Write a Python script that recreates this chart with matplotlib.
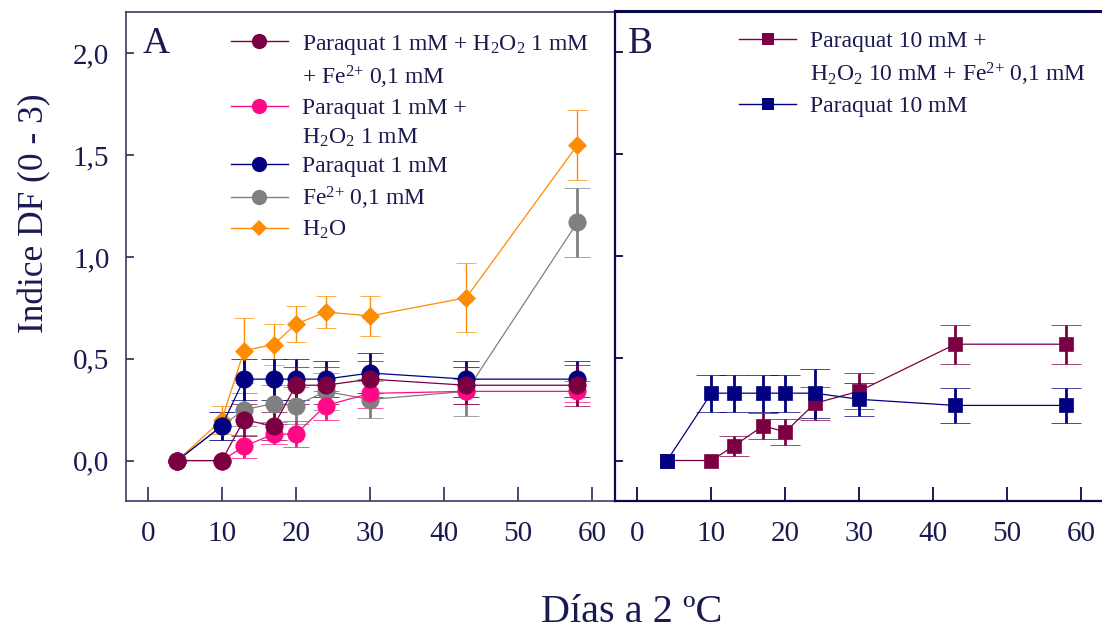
import matplotlib
matplotlib.use("Agg")
import matplotlib.pyplot as plt
from matplotlib.lines import Line2D

plt.rcParams['font.family'] = ['Liberation Serif', 'DejaVu Serif']
plt.rcParams['mathtext.default'] = 'regular'

TXT = '#1a1a50'
NA = float('nan')  # no error bar drawn

# ---------------- data ----------------
days = [4, 10, 13, 17, 20, 24, 30, 43, 58]

# Panel A
pq1_h2o2_fe = [0, 0, 0.20, 0.17, 0.37, 0.37, 0.40, 0.37, 0.37]
pq1_h2o2_fe_err = [NA, NA, 0.08, 0.07, 0.09, 0.09, 0.09, 0.09, 0.10]
pq1_h2o2 = [0, 0, 0.07, 0.13, 0.13, 0.27, 0.33, 0.34, 0.34]
pq1_h2o2_err = [NA, NA, 0.055, 0.05, 0.065, 0.07, 0.07, 0.06, 0.05]
pq1 = [0, 0.17, 0.40, 0.40, 0.40, 0.40, 0.43, 0.40, 0.40]
pq1_err = [NA, 0.07, 0.10, 0.10, 0.10, 0.09, 0.10, 0.09, 0.09]
fe = [0, 0.17, 0.25, 0.28, 0.27, 0.34, 0.30, 0.34, 1.17]
fe_err = [NA, 0.07, 0.08, 0.09, 0.09, 0.09, 0.09, 0.12, 0.17]
h2o = [0, 0.20, 0.54, 0.57, 0.67, 0.73, 0.71, 0.80, 1.55]
h2o_err = [NA, 0.07, 0.16, 0.10, 0.09, 0.08, 0.10, 0.17, 0.17]

# Panel B
pq10_h2o2_fe = [0, 0, 0.07, 0.17, 0.14, 0.28, 0.34, 0.57, 0.57]
pq10_h2o2_fe_err = [NA, NA, 0.05, 0.065, 0.065, 0.08, 0.09, 0.095, 0.095]
pq10 = [0, 0.33, 0.33, 0.33, 0.33, 0.33, 0.30, 0.27, 0.27]
pq10_err = [NA, 0.09, 0.09, 0.09, 0.09, 0.12, 0.08, 0.085, 0.085]

yticks = [0, 0.5, 1.0, 1.5, 2.0]
ytick_labels = ['0,0', '0,5', '1,0', '1,5', '2,0']
xticks = [0, 10, 20, 30, 40, 50, 60]

C_MAROON = '#7b0041'
C_PINK = '#ff0a84'
C_NAVY = '#000080'
C_GRAY = '#808080'
C_ORANGE = '#ff8c00'

fig = plt.figure(figsize=(11.02, 6.39), dpi=100)
axA = fig.add_axes([126/1102, 1-500.5/639, 489/1102, 488.5/639])
axB = fig.add_axes([615/1102, 1-500.5/639, 487/1102, 489.5/639])

def style(ax, spine_color, lw):
    ax.set_ylim(-0.196, 2.203)
    ax.set_xticks(xticks)
    ax.set_xticklabels([str(t) for t in xticks])
    ax.tick_params(axis='x', direction='in', length=10, width=1.3, colors=spine_color,
                   labelcolor=TXT, labelsize=21, pad=15)
    ax.tick_params(axis='y', direction='in', length=6, width=1.3, colors=spine_color,
                   labelcolor=TXT, labelsize=21, pad=12)
    for s in ax.spines.values():
        s.set_color(spine_color)
        s.set_linewidth(lw)

style(axA, '#3a3a68', 1.2)
style(axB, '#0a0a48', 1.6)
axB.spines['top'].set_linewidth(2.2)
axA.set_xlim(-2.93, 63.07)
axB.set_xlim(-3.04, 62.85)
axA.set_yticks(yticks)
axA.set_yticklabels(ytick_labels)
axB.set_yticks(yticks)
axB.set_yticklabels([])
axB.spines['right'].set_visible(False)

def series(ax, y, e, color, marker, ms, cap, elw, lw=0.9):
    ax.errorbar(days, y, yerr=e, color=color, marker=marker, markersize=ms,
                capsize=cap, elinewidth=elw, capthick=elw, linewidth=lw,
                markeredgecolor=color, markeredgewidth=0.5)

series(axA, h2o, h2o_err, C_ORANGE, 'D', 9.5, 7.5, 1.0)
series(axA, fe, fe_err, C_GRAY, 'o', 12.5, 9.5, 2.0)
series(axA, pq1, pq1_err, C_NAVY, 'o', 12.5, 9.5, 2.0)
series(axA, pq1_h2o2, pq1_h2o2_err, C_PINK, 'o', 12.5, 9.5, 2.0)
series(axA, pq1_h2o2_fe, pq1_h2o2_fe_err, C_MAROON, 'o', 12.5, 9.5, 2.0)

series(axB, pq10_h2o2_fe, pq10_h2o2_fe_err, C_MAROON, 's', 10, 10.5, 2.0)
series(axB, pq10, pq10_err, C_NAVY, 's', 10, 10.5, 2.0)

axA.text(0.033, 0.934, 'A', transform=axA.transAxes, fontsize=27, color=TXT,
         ha='left', va='center')
axB.text(0.027, 0.934, 'B', transform=axB.transAxes, fontsize=27, color=TXT,
         ha='left', va='center')

def h(color, marker, ms):
    return Line2D([], [], color=color, marker=marker, markersize=ms, lw=1.0,
                  markeredgewidth=0)
blank = Line2D([], [], linestyle='none')

handlesA = [h(C_MAROON, 'o', 11), blank, h(C_PINK, 'o', 11), blank,
            h(C_NAVY, 'o', 11), h(C_GRAY, 'o', 11), h(C_ORANGE, 'D', 8)]
labelsA = ['Paraquat 1 mM + H$_2$O$_2$ 1 mM',
           '+ Fe$^{2{+}}$ 0,1 mM',
           'Paraquat 1 mM +',
           'H$_2$O$_2$ 1 mM',
           'Paraquat 1 mM',
           'Fe$^{2{+}}$ 0,1 mM',
           'H$_2$O']
legA = axA.legend(handlesA, labelsA, loc='upper left', bbox_to_anchor=(0.215, 0.958),
                  frameon=False, fontsize=17, handlelength=2.4, handletextpad=0.6,
                  borderpad=0, borderaxespad=0, labelspacing=0.3, labelcolor=TXT)

handlesB = [h(C_MAROON, 's', 9), blank, h(C_NAVY, 's', 9)]
labelsB = ['Paraquat 10 mM +',
           'H$_2$O$_2$ 10 mM + Fe$^{2{+}}$ 0,1 mM',
           'Paraquat 10 mM']
legB = axB.legend(handlesB, labelsB, loc='upper left', bbox_to_anchor=(0.255, 0.96),
                  frameon=False, fontsize=17, handlelength=2.4, handletextpad=0.6,
                  borderpad=0, borderaxespad=0, labelspacing=0.35, labelcolor=TXT)

fig.text(35/1102, 1-213/639, 'Indice DF (0 - 3)', rotation=90, fontsize=25.5,
         color=TXT, ha='center', va='center')
fig.text(632/1102, 1-612/639, 'Días a 2 ºC', fontsize=29, color=TXT,
         ha='center', va='center')

fig.savefig('out.png', dpi=100)
